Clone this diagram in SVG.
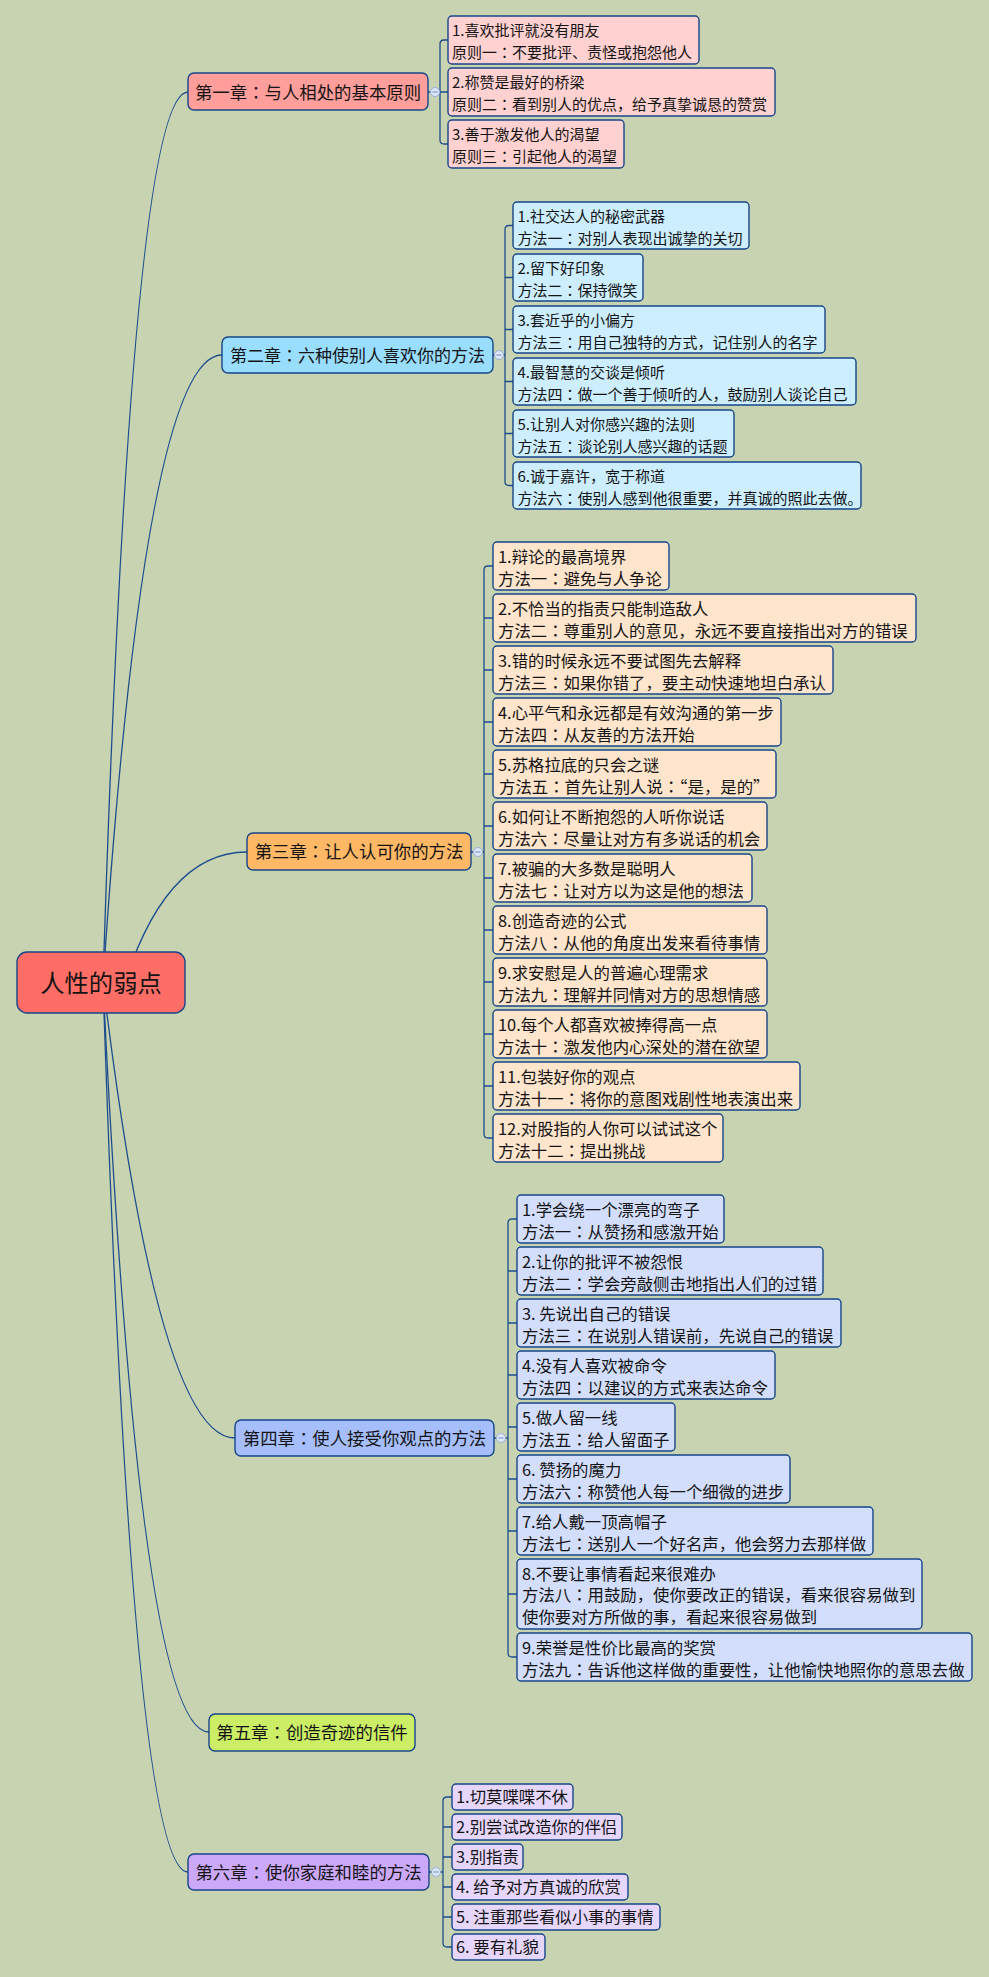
<svg xmlns="http://www.w3.org/2000/svg" width="989" height="1977" viewBox="0 0 989 1977">
<style>
.conn{fill:none;stroke:#1E4D8C;stroke-width:1.3}
.box{stroke:#17458A;stroke-width:1.4}
.t{font-family:"Noto Sans CJK SC","Microsoft YaHei",sans-serif;fill:#141414}
.p{font-family:"Noto Sans CJK TC","Noto Sans CJK SC",sans-serif}
.s15{font-size:15px}
.s16{font-size:16.4px}
.ch{font-size:17.4px}
.rt{font-size:24.3px}
.tog{fill:#DCE6F7;stroke:#98B0DA;stroke-width:1}
.togm{stroke:#7D9CCB;stroke-width:1.2}
.k0{fill:#FF6E66}
.k1{fill:#FF9E9A}.k1c{fill:#FFD1D0}
.k2{fill:#99DDFF}.k2c{fill:#CCEEFF}
.k3{fill:#FFB866}.k3c{fill:#FFE5CC}
.k4{fill:#A6BEFC}.k4c{fill:#D2DEFC}
.k5{fill:#CCEE66}
.k6{fill:#CCA8FA}.k6c{fill:#E6D6FC}
</style>
<rect x="0" y="0" width="989" height="1977" fill="#C7D3B1"/>
<g id="connectors">
<path class="conn" d="M103,982 Q131,92 188,92"/>
<path class="conn" d="M103,982 Q145,355 222,355"/>
<path class="conn" d="M120.7,996 Q163,852 247,852"/>
<path class="conn" d="M103,982 Q158,1438 235,1438"/>
<path class="conn" d="M103,982 Q139,1732 209,1732"/>
<path class="conn" d="M103,982 Q132,1872 188,1872"/>
<path class="conn" d="M428,92 H440 M448,40 H444 Q440,40 440,44 V140 Q440,144 444,144 H448 M440,92 H448"/>
<path class="conn" d="M493,355 H505 M513,225.5 H509 Q505,225.5 505,229.5 V481.5 Q505,485.5 509,485.5 H513 M505,277.5 H513 M505,329.5 H513 M505,381.5 H513 M505,433.5 H513"/>
<path class="conn" d="M471,852 H484 M493,566 H488 Q484,566 484,570 V1134 Q484,1138 488,1138 H493 M484,618 H493 M484,670 H493 M484,722 H493 M484,774 H493 M484,826 H493 M484,878 H493 M484,930 H493 M484,982 H493 M484,1034 H493 M484,1086 H493"/>
<path class="conn" d="M494,1438 H508 M517,1219 H512 Q508,1219 508,1223 V1653 Q508,1657 512,1657 H517 M508,1271 H517 M508,1323 H517 M508,1375 H517 M508,1427 H517 M508,1479 H517 M508,1531 H517 M508,1594 H517"/>
<path class="conn" d="M429,1872 H443 M452,1797 H447 Q443,1797 443,1801 V1943 Q443,1947 447,1947 H452 M443,1827 H452 M443,1857 H452 M443,1887 H452 M443,1917 H452"/>
</g>
<g id="root">
<rect class="box k0" x="17" y="952" width="168" height="61" rx="10"/>
<text class="t rt" x="101" y="992" text-anchor="middle">人性的弱点</text>
</g>
<g id="ch1">
<rect class="box k1" x="188" y="73" width="240" height="37" rx="6"/>
<text class="t ch" x="308" y="98.5" text-anchor="middle">第一章<tspan class="p">：</tspan>与人相处的基本原则</text>
<circle class="tog" cx="435" cy="92" r="4.5"/><path class="togm" d="M432.5,92 H437.5"/>
</g>
<g id="ch1-1"><rect class="box k1c" x="448" y="16" width="251" height="48" rx="4"/><text class="t s15"><tspan x="452" y="36">1.喜欢批评就没有朋友</tspan><tspan x="452" y="58">原则一<tspan class="p">：</tspan>不要批评、责怪或抱怨他人</tspan></text></g>
<g id="ch1-2"><rect class="box k1c" x="448" y="68" width="327" height="48" rx="4"/><text class="t s15"><tspan x="452" y="88">2.称赞是最好的桥梁</tspan><tspan x="452" y="110">原则二<tspan class="p">：</tspan>看到别人的优点，给予真挚诚恳的赞赏</tspan></text></g>
<g id="ch1-3"><rect class="box k1c" x="448" y="120" width="176" height="48" rx="4"/><text class="t s15"><tspan x="452" y="140">3.善于激发他人的渴望</tspan><tspan x="452" y="162">原则三<tspan class="p">：</tspan>引起他人的渴望</tspan></text></g>
<g id="ch2">
<rect class="box k2" x="222" y="337" width="271" height="36" rx="6"/>
<text class="t ch" x="357.5" y="361.5" text-anchor="middle" style="font-size:17px">第二章<tspan class="p">：</tspan>六种使别人喜欢你的方法</text>
<circle class="tog" cx="499" cy="355" r="4.5"/><path class="togm" d="M496.5,355 H501.5"/>
</g>
<g id="ch2-1"><rect class="box k2c" x="513" y="202" width="236" height="47" rx="4"/><text class="t s15"><tspan x="517.5" y="222">1.社交达人的秘密武器</tspan><tspan x="517.5" y="244">方法一<tspan class="p">：</tspan>对别人表现出诚挚的关切</tspan></text></g>
<g id="ch2-2"><rect class="box k2c" x="513" y="254" width="130" height="47" rx="4"/><text class="t s15"><tspan x="517.5" y="274">2.留下好印象</tspan><tspan x="517.5" y="296">方法二<tspan class="p">：</tspan>保持微笑</tspan></text></g>
<g id="ch2-3"><rect class="box k2c" x="513" y="306" width="312" height="47" rx="4"/><text class="t s15"><tspan x="517.5" y="326">3.套近乎的小偏方</tspan><tspan x="517.5" y="348">方法三<tspan class="p">：</tspan>用自己独特的方式，记住别人的名字</tspan></text></g>
<g id="ch2-4"><rect class="box k2c" x="513" y="358" width="343" height="47" rx="4"/><text class="t s15"><tspan x="517.5" y="378">4.最智慧的交谈是倾听</tspan><tspan x="517.5" y="400">方法四<tspan class="p">：</tspan>做一个善于倾听的人，鼓励别人谈论自己</tspan></text></g>
<g id="ch2-5"><rect class="box k2c" x="513" y="410" width="221" height="47" rx="4"/><text class="t s15"><tspan x="517.5" y="430">5.让别人对你感兴趣的法则</tspan><tspan x="517.5" y="452">方法五<tspan class="p">：</tspan>谈论别人感兴趣的话题</tspan></text></g>
<g id="ch2-6"><rect class="box k2c" x="513" y="462" width="348" height="47" rx="4"/><text class="t s15"><tspan x="517.5" y="482">6.诚于嘉许，宽于称道</tspan><tspan x="517.5" y="504">方法六<tspan class="p">：</tspan>使别人感到他很重要，并真诚的照此去做。</tspan></text></g>
<g id="ch3">
<rect class="box k3" x="247" y="833" width="224" height="37" rx="6"/>
<text class="t ch" x="359" y="858" text-anchor="middle">第三章<tspan class="p">：</tspan>让人认可你的方法</text>
<circle class="tog" cx="478" cy="852" r="4.5"/><path class="togm" d="M475.5,852 H480.5"/>
</g>
<g id="ch3-1"><rect class="box k3c" x="493" y="542" width="176" height="48" rx="4"/><text class="t s16"><tspan x="498" y="562.5">1.辩论的最高境界</tspan><tspan x="498" y="584.5">方法一<tspan class="p">：</tspan>避免与人争论</tspan></text></g>
<g id="ch3-2"><rect class="box k3c" x="493" y="594" width="423" height="48" rx="4"/><text class="t s16"><tspan x="498" y="614.5">2.不恰当的指责只能制造敌人</tspan><tspan x="498" y="636.5">方法二<tspan class="p">：</tspan>尊重别人的意见，永远不要直接指出对方的错误</tspan></text></g>
<g id="ch3-3"><rect class="box k3c" x="493" y="646" width="340" height="48" rx="4"/><text class="t s16"><tspan x="498" y="666.5">3.错的时候永远不要试图先去解释</tspan><tspan x="498" y="688.5">方法三<tspan class="p">：</tspan>如果你错了，要主动快速地坦白承认</tspan></text></g>
<g id="ch3-4"><rect class="box k3c" x="493" y="698" width="288" height="48" rx="4"/><text class="t s16"><tspan x="498" y="718.5">4.心平气和永远都是有效沟通的第一步</tspan><tspan x="498" y="740.5">方法四<tspan class="p">：</tspan>从友善的方法开始</tspan></text></g>
<g id="ch3-5"><rect class="box k3c" x="493" y="750" width="283" height="48" rx="4"/><text class="t s16"><tspan x="498" y="770.5">5.苏格拉底的只会之谜</tspan><tspan x="499" y="792.5">方法五<tspan class="p">：</tspan>首先让别人说<tspan class="p">：</tspan>“是，是的”</tspan></text></g>
<g id="ch3-6"><rect class="box k3c" x="493" y="802" width="274" height="48" rx="4"/><text class="t s16"><tspan x="498" y="822.5">6.如何让不断抱怨的人听你说话</tspan><tspan x="498" y="844.5">方法六<tspan class="p">：</tspan>尽量让对方有多说话的机会</tspan></text></g>
<g id="ch3-7"><rect class="box k3c" x="493" y="854" width="259" height="48" rx="4"/><text class="t s16"><tspan x="498" y="874.5">7.被骗的大多数是聪明人</tspan><tspan x="498" y="896.5">方法七<tspan class="p">：</tspan>让对方以为这是他的想法</tspan></text></g>
<g id="ch3-8"><rect class="box k3c" x="493" y="906" width="274" height="48" rx="4"/><text class="t s16"><tspan x="498" y="926.5">8.创造奇迹的公式</tspan><tspan x="498" y="948.5">方法八<tspan class="p">：</tspan>从他的角度出发来看待事情</tspan></text></g>
<g id="ch3-9"><rect class="box k3c" x="493" y="958" width="274" height="48" rx="4"/><text class="t s16"><tspan x="498" y="978.5">9.求安慰是人的普遍心理需求</tspan><tspan x="498" y="1000.5">方法九<tspan class="p">：</tspan>理解并同情对方的思想情感</tspan></text></g>
<g id="ch3-10"><rect class="box k3c" x="493" y="1010" width="274" height="48" rx="4"/><text class="t s16"><tspan x="498" y="1030.5">10.每个人都喜欢被捧得高一点</tspan><tspan x="498" y="1052.5">方法十<tspan class="p">：</tspan>激发他内心深处的潜在欲望</tspan></text></g>
<g id="ch3-11"><rect class="box k3c" x="493" y="1062" width="307" height="48" rx="4"/><text class="t s16"><tspan x="498" y="1082.5">11.包装好你的观点</tspan><tspan x="498" y="1104.5">方法十一<tspan class="p">：</tspan>将你的意图戏剧性地表演出来</tspan></text></g>
<g id="ch3-12"><rect class="box k3c" x="493" y="1114" width="230" height="48" rx="4"/><text class="t s16"><tspan x="498" y="1134.5">12.对股指的人你可以试试这个</tspan><tspan x="498" y="1156.5">方法十二<tspan class="p">：</tspan>提出挑战</tspan></text></g>
<g id="ch4">
<rect class="box k4" x="235" y="1420" width="259" height="36" rx="6"/>
<text class="t ch" x="364.5" y="1444.5" text-anchor="middle">第四章<tspan class="p">：</tspan>使人接受你观点的方法</text>
<circle class="tog" cx="501" cy="1438" r="4.5"/><path class="togm" d="M498.5,1438 H503.5"/>
</g>
<g id="ch4-1"><rect class="box k4c" x="517" y="1195" width="207" height="48" rx="4"/><text class="t s16"><tspan x="522" y="1215.5">1.学会绕一个漂亮的弯子</tspan><tspan x="522" y="1237.5">方法一<tspan class="p">：</tspan>从赞扬和感激开始</tspan></text></g>
<g id="ch4-2"><rect class="box k4c" x="517" y="1247" width="306" height="48" rx="4"/><text class="t s16"><tspan x="522" y="1267.5">2.让你的批评不被怨恨</tspan><tspan x="522" y="1289.5">方法二<tspan class="p">：</tspan>学会旁敲侧击地指出人们的过错</tspan></text></g>
<g id="ch4-3"><rect class="box k4c" x="517" y="1299" width="324" height="48" rx="4"/><text class="t s16"><tspan x="522" y="1319.5">3. 先说出自己的错误</tspan><tspan x="522" y="1341.5">方法三<tspan class="p">：</tspan>在说别人错误前，先说自己的错误</tspan></text></g>
<g id="ch4-4"><rect class="box k4c" x="517" y="1351" width="258" height="48" rx="4"/><text class="t s16"><tspan x="522" y="1371.5">4.没有人喜欢被命令</tspan><tspan x="522" y="1393.5">方法四<tspan class="p">：</tspan>以建议的方式来表达命令</tspan></text></g>
<g id="ch4-5"><rect class="box k4c" x="517" y="1403" width="158" height="48" rx="4"/><text class="t s16"><tspan x="522" y="1423.5">5.做人留一线</tspan><tspan x="522" y="1445.5">方法五<tspan class="p">：</tspan>给人留面子</tspan></text></g>
<g id="ch4-6"><rect class="box k4c" x="517" y="1455" width="273" height="48" rx="4"/><text class="t s16"><tspan x="522" y="1475.5">6. 赞扬的魔力</tspan><tspan x="522" y="1497.5">方法六<tspan class="p">：</tspan>称赞他人每一个细微的进步</tspan></text></g>
<g id="ch4-7"><rect class="box k4c" x="517" y="1507" width="356" height="48" rx="4"/><text class="t s16"><tspan x="522" y="1527.5">7.给人戴一顶高帽子</tspan><tspan x="522" y="1549.5">方法七<tspan class="p">：</tspan>送别人一个好名声，他会努力去那样做</tspan></text></g>
<g id="ch4-8"><rect class="box k4c" x="517" y="1559" width="405" height="70" rx="4"/><text class="t s16"><tspan x="522" y="1579.5">8.不要让事情看起来很难办</tspan><tspan x="522" y="1601.3">方法八<tspan class="p">：</tspan>用鼓励，使你要改正的错误，看来很容易做到</tspan><tspan x="522" y="1623">使你要对方所做的事，看起来很容易做到</tspan></text></g>
<g id="ch4-9"><rect class="box k4c" x="517" y="1633" width="455" height="48" rx="4"/><text class="t s16"><tspan x="522" y="1653.5">9.荣誉是性价比最高的奖赏</tspan><tspan x="522" y="1675.5">方法九<tspan class="p">：</tspan>告诉他这样做的重要性，让他愉快地照你的意思去做</tspan></text></g>
<g id="ch5">
<rect class="box k5" x="209" y="1714" width="206" height="37" rx="6"/>
<text class="t ch" x="312" y="1739" text-anchor="middle">第五章<tspan class="p">：</tspan>创造奇迹的信件</text>
</g>
<g id="ch6">
<rect class="box k6" x="188" y="1854" width="241" height="36" rx="6"/>
<text class="t ch" x="308.5" y="1878.5" text-anchor="middle">第六章<tspan class="p">：</tspan>使你家庭和睦的方法</text>
<circle class="tog" cx="436" cy="1872" r="4.5"/><path class="togm" d="M433.5,1872 H438.5"/>
</g>
<g id="ch6-1"><rect class="box k6c" x="452" y="1784" width="121" height="26" rx="4"/><text class="t s16" x="456" y="1803">1.切莫喋喋不休</text></g>
<g id="ch6-2"><rect class="box k6c" x="452" y="1814" width="170" height="26" rx="4"/><text class="t s16" x="456" y="1833">2.别尝试改造你的伴侣</text></g>
<g id="ch6-3"><rect class="box k6c" x="452" y="1844" width="71" height="26" rx="4"/><text class="t s16" x="456" y="1863">3.别指责</text></g>
<g id="ch6-4"><rect class="box k6c" x="452" y="1874" width="176" height="26" rx="4"/><text class="t s16" x="456" y="1893">4. 给予对方真诚的欣赏</text></g>
<g id="ch6-5"><rect class="box k6c" x="452" y="1904" width="208" height="26" rx="4"/><text class="t s16" x="456" y="1923">5. 注重那些看似小事的事情</text></g>
<g id="ch6-6"><rect class="box k6c" x="452" y="1934" width="93" height="26" rx="4"/><text class="t s16" x="456" y="1953">6. 要有礼貌</text></g>
</svg>
